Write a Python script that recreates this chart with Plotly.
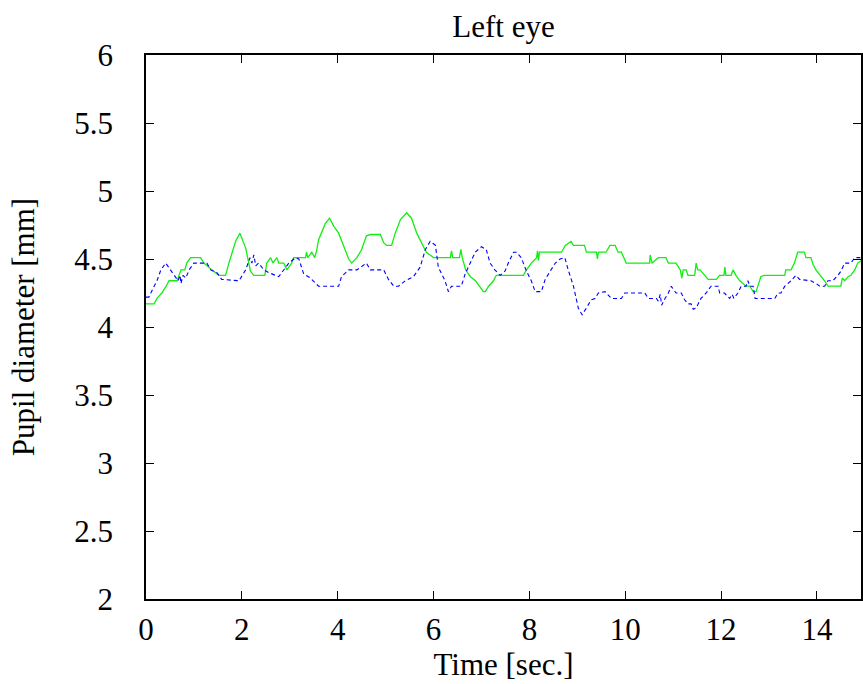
import plotly.graph_objects as go

# Time samples [sec.] and pupil diameter [mm], green (solid) trace
t_green = [0.0, 0.17, 0.23, 0.33, 0.42, 0.48, 0.65, 0.69, 0.73, 0.81, 0.85, 0.93, 1.14, 1.21, 1.27,
           1.375, 1.52, 1.66, 1.73, 1.87, 1.96, 2.08, 2.18, 2.25, 2.48, 2.52, 2.60, 2.65, 2.73, 2.77,
           2.875, 2.94, 3.04, 3.08, 3.33, 3.35, 3.375, 3.46, 3.52, 3.56, 3.60, 3.74, 3.83, 3.92, 4.02,
           4.125, 4.23, 4.29, 4.40, 4.50, 4.60, 4.68, 4.89, 4.96, 5.02, 5.125, 5.20, 5.31, 5.44, 5.54,
           5.65, 5.75, 5.85, 6.0, 6.35, 6.375, 6.40, 6.54, 6.57, 6.60, 6.67, 6.77, 6.875, 6.98, 7.04,
           7.08, 7.15, 7.25, 7.31, 7.875, 7.94, 8.04, 8.15, 8.17, 8.19, 8.21, 8.25, 8.67, 8.75, 8.87,
           8.92, 9.15, 9.19, 9.40, 9.42, 9.44, 9.60, 9.68, 9.79, 9.85, 9.92, 9.99, 10.02, 10.51, 10.52,
           10.56, 10.69, 10.85, 10.90, 11.06, 11.15, 11.18, 11.21, 11.27, 11.31, 11.45, 11.48, 11.51,
           11.56, 11.66, 11.73, 11.90, 11.97, 12.06, 12.08, 12.10, 12.21, 12.25, 12.31, 12.39, 12.52,
           12.60, 12.67, 12.73, 12.77, 12.83, 12.90, 13.33, 13.35, 13.46, 13.53, 13.56, 13.60, 13.74,
           13.77, 13.875, 13.92, 13.98, 14.08, 14.16, 14.23, 14.50, 14.53, 14.58, 14.65, 14.71, 14.79,
           14.85, 14.98]
d_green = [4.17, 4.17, 4.21, 4.25, 4.30, 4.34, 4.34, 4.38, 4.42, 4.42, 4.47, 4.51, 4.51, 4.47, 4.45,
           4.42, 4.38, 4.38, 4.47, 4.63, 4.69, 4.58, 4.41, 4.38, 4.38, 4.47, 4.51, 4.47, 4.51, 4.47,
           4.47, 4.42, 4.47, 4.51, 4.51, 4.55, 4.51, 4.55, 4.51, 4.56, 4.64, 4.76, 4.80, 4.74, 4.69,
           4.60, 4.50, 4.47, 4.51, 4.57, 4.67, 4.68, 4.68, 4.62, 4.60, 4.60, 4.69, 4.79, 4.84, 4.80,
           4.69, 4.62, 4.55, 4.51, 4.51, 4.56, 4.51, 4.51, 4.57, 4.51, 4.42, 4.37, 4.34, 4.29, 4.26,
           4.26, 4.30, 4.34, 4.38, 4.38, 4.42, 4.47, 4.51, 4.56, 4.49, 4.55, 4.55, 4.55, 4.60, 4.63,
           4.60, 4.60, 4.55, 4.55, 4.50, 4.55, 4.55, 4.60, 4.60, 4.55, 4.55, 4.50, 4.47, 4.47, 4.53,
           4.47, 4.51, 4.51, 4.47, 4.47, 4.42, 4.36, 4.42, 4.42, 4.38, 4.38, 4.47, 4.42,
           4.42, 4.38, 4.35, 4.35, 4.38, 4.38, 4.44, 4.38, 4.38, 4.42, 4.38, 4.34, 4.30,
           4.30, 4.26, 4.26, 4.30, 4.37, 4.38, 4.38, 4.42, 4.42, 4.47, 4.51, 4.55, 4.55,
           4.51, 4.51, 4.46, 4.42, 4.38, 4.34, 4.30, 4.30, 4.36, 4.34, 4.37, 4.38, 4.42,
           4.47, 4.50]

# Blue (dashed) trace
t_blue = [0.0, 0.06, 0.17, 0.23, 0.31, 0.41, 0.51, 0.62, 0.67, 0.71, 0.73, 0.77, 0.83, 0.90, 1.0,
          1.06, 1.27, 1.35, 1.48, 1.58, 1.94, 2.08, 2.17, 2.21, 2.25, 2.29, 2.35, 2.46, 2.56, 2.77,
          2.98, 3.12, 3.19, 3.29, 3.43, 3.60, 4.02, 4.08, 4.23, 4.40, 4.60, 4.68, 4.96, 5.06, 5.17,
          5.27, 5.41, 5.58, 5.72, 5.83, 5.93, 6.04, 6.10, 6.24, 6.31, 6.375, 6.58, 6.66, 6.76, 6.87,
          7.0, 7.10, 7.18, 7.28, 7.39, 7.49, 7.56, 7.67, 7.73, 7.83, 7.94, 8.04, 8.12, 8.25, 8.33,
          8.43, 8.54, 8.64, 8.74, 8.81, 8.92, 9.02, 9.10, 9.19, 9.29, 9.37, 9.44, 9.58, 9.71, 9.92,
          9.99, 10.41, 10.48, 10.65, 10.69, 10.73, 10.76, 10.83, 10.90, 10.96, 11.06, 11.17, 11.24,
          11.31, 11.375, 11.42, 11.48, 11.58, 11.69, 11.79, 11.94, 11.97, 12.07, 12.18, 12.23, 12.27,
          12.35, 12.42, 12.52, 12.56, 12.60, 12.67, 12.71, 13.12, 13.19, 13.25, 13.33, 13.46, 13.56,
          13.64, 13.875, 13.98, 14.06, 14.16, 14.23, 14.33, 14.44, 14.50, 14.58, 14.71, 14.79, 14.98]
d_blue = [4.22, 4.22, 4.30, 4.34, 4.42, 4.47, 4.42, 4.37, 4.34, 4.38, 4.32, 4.38, 4.36, 4.42, 4.47,
          4.47, 4.47, 4.42, 4.40, 4.35, 4.34, 4.42, 4.51, 4.47, 4.53, 4.45, 4.47, 4.42, 4.40, 4.37,
          4.47, 4.51, 4.50, 4.39, 4.36, 4.30, 4.30, 4.37, 4.42, 4.42, 4.47, 4.42, 4.42, 4.35, 4.30,
          4.30, 4.34, 4.37, 4.44, 4.57, 4.63, 4.60, 4.44, 4.34, 4.26, 4.30, 4.30, 4.39, 4.47, 4.55,
          4.59, 4.57, 4.47, 4.42, 4.38, 4.41, 4.47, 4.55, 4.55, 4.51, 4.41, 4.34, 4.26, 4.26, 4.35,
          4.41, 4.47, 4.50, 4.51, 4.42, 4.30, 4.14, 4.09, 4.14, 4.20, 4.21, 4.25, 4.26, 4.21, 4.21,
          4.25, 4.25, 4.21, 4.21, 4.19, 4.24, 4.16, 4.21, 4.25, 4.30, 4.25, 4.25, 4.20,
          4.17, 4.17, 4.13, 4.14, 4.21, 4.25, 4.30, 4.30, 4.25, 4.25, 4.21, 4.24, 4.21,
          4.25, 4.30, 4.30, 4.34, 4.30, 4.30, 4.21, 4.21, 4.25, 4.25, 4.30, 4.34, 4.38,
          4.35, 4.34, 4.32, 4.30, 4.30, 4.34, 4.34, 4.38, 4.41, 4.47, 4.47, 4.51, 4.51]

x_ticks = [0, 2, 4, 6, 8, 10, 12, 14]
y_ticks = [2, 2.5, 3, 3.5, 4, 4.5, 5, 5.5, 6]

FONT = "Times New Roman, Tinos, Liberation Serif, DejaVu Serif, serif"
FSIZE = 31

fig = go.Figure()
fig.add_trace(go.Scatter(x=t_green, y=d_green, mode="lines",
                         line=dict(color="#11ee11", width=1.3), showlegend=False))
fig.add_trace(go.Scatter(x=t_blue, y=d_blue, mode="lines",
                         line=dict(color="#0000ff", width=1.1, dash="4px,3px"), showlegend=False))

axis_common = dict(
    showgrid=False, zeroline=False,
    showline=True, linecolor="black", linewidth=1.5, mirror="all",
    ticks="inside", ticklen=8, tickwidth=1, tickcolor="black",
    tickfont=dict(family=FONT, size=FSIZE, color="black"),
)

fig.update_xaxes(range=[0, 14.92], tickvals=x_ticks, ticklabelstandoff=2,
                 title=dict(text="Time [sec.]", font=dict(family=FONT, size=FSIZE, color="black"),
                            standoff=0),
                 **axis_common)
fig.update_yaxes(range=[2, 6], tickvals=y_ticks, ticklabelstandoff=25,
                 title=dict(text="Pupil diameter [mm]", font=dict(family=FONT, size=FSIZE, color="black"),
                            standoff=30),
                 **axis_common)

fig.update_layout(
    width=863, height=684,
    margin=dict(l=146, r=0, t=55, b=85),
    paper_bgcolor="white", plot_bgcolor="white",
    font=dict(family=FONT),
    title=dict(text="Left eye", x=0.5, xref="paper", y=1 - 26 / 684, yref="container",
               xanchor="center", yanchor="middle",
               font=dict(family=FONT, size=FSIZE, color="black")),
)

fig.write_html("out.html")
